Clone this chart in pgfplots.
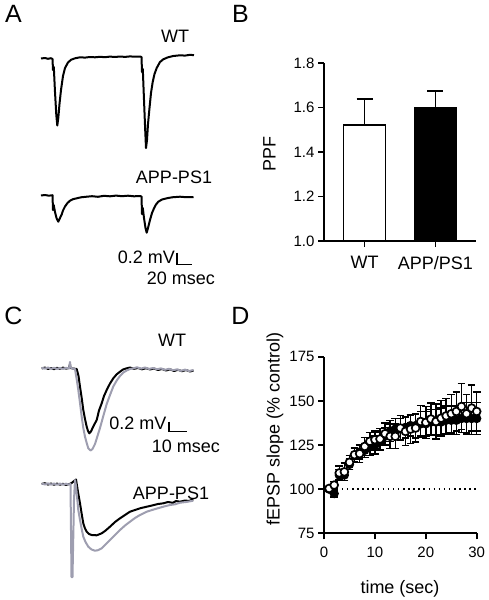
\documentclass[border=0pt]{standalone}
\usepackage{fontspec}
\setmainfont{Liberation Sans}
\usepackage{pgfplots}
\usepackage{pgfplotstable}
\pgfplotsset{compat=1.18}
\definecolor{tracegray}{RGB}{158,158,176}
\newcommand{\lab}{\fontsize{18}{18}\selectfont}
\newcommand{\tk}{\fontsize{15}{15}\selectfont}
\pgfplotstableread{
t open eo filled ef
1 100.4 1 100 1
2 102.3 2 97.5 2
3 109.2 4 108 3
4 109.8 5 108 3
5 115.2 4 114 3
6 119.5 4 119 4
7 120.1 5 121 4
8 124.2 5 122 4
9 127.1 5 124 5
10 128 5 125 5
11 128.4 6 127 5
12 131.4 6 130 5
13 129.9 7 133 6
14 129.9 7 134 6
15 134.6 7 134 6
16 132.7 8 135 6
17 134 8 136 6
18 134.6 8 136 7
19 138.3 9 137 7
20 137.8 9 137 7
21 139.7 9 138 7
22 138.3 10 138 7
23 140.2 10 138 8
24 141.5 10 139 8
25 142.7 11 139 8
26 144 11 139 8
27 146.8 13 140 8
28 142.7 11 140 9
29 145.9 13 140 9
30 144 11 140 9
}\ltpdata
\pgfplotsset{panel/.style={scale only axis, axis lines=left,
  axis line style={-, line width=1.8pt},
  tick align=outside, major tick length=6pt,
  every tick/.style={black, line width=1.8pt},
  tick label style={font=\tk},
  /pgf/number format/assume math mode=true}}
\begin{document}
\begin{tikzpicture}
\useasboundingbox (0pt,0pt) rectangle (488pt,-600pt);
% ---------- traces (pixel coordinates) ----------
\begin{axis}[at={(0pt,-600pt)}, anchor=south west, width=488pt, height=600pt,
  scale only axis, xmin=0, xmax=488, ymin=-600, ymax=0, hide axis, clip=false]
% A: WT
\addplot[black, line width=2pt, line join=round] coordinates {
(41,-58.5)(45,-58)(48,-58.8)(51,-58.2)(52.5,-59)(53,-70)(53.8,-67)(55,-92)(56.3,-115)(57.3,-125.5)(58.3,-118)(59.5,-104)(61,-90)(63,-76)(65,-68)(68,-62.5)(71,-59.8)(75,-58.3)(80,-57.3)(85,-57.6)(90,-57)(95,-57.3)(100,-56.8)(105,-57.2)(110,-56.6)(115,-57)(120,-56.5)(125,-56.9)(130,-56.4)(135,-56.7)(140,-56.5)(141.5,-57)(142,-72)(142.8,-69)(144,-100)(145.2,-130)(146,-148)(147,-140)(148,-124)(149.3,-110)(151,-93)(152.7,-82)(154.5,-74)(156.7,-68)(160,-62)(163.3,-59.3)(168,-57.3)(173.3,-56)(180,-55.3)(185,-55.6)(190,-54.8)(194,-55.2)};
% A: APP-PS1
\addplot[black, line width=2pt, line join=round] coordinates {
(41,-195.5)(45,-195)(49,-195.7)(52.5,-195.2)(53,-210)(53.7,-205)(55,-212)(56.5,-218)(58.3,-221.7)(60,-218)(61.7,-214.5)(63,-210.5)(65,-206.5)(67.5,-203)(70,-200.7)(73,-199.2)(76.7,-198.3)(81,-197.3)(86.7,-196.7)(92,-196.2)(98,-196.8)(104,-195.8)(110,-196.3)(116,-195.6)(122,-196.2)(128,-195.7)(134,-196.3)(140,-196)(141.5,-196.5)(142,-214)(142.8,-208)(144,-218)(145.5,-228)(146.7,-232.7)(148,-228)(150,-220)(152,-213)(154,-208.3)(156,-204.5)(158.3,-201.7)(162,-199.5)(166.7,-198.3)(172,-197.3)(180,-196.7)(186,-197.2)(193.5,-197)};
% A: scale bar
\addplot[black, line width=1.6pt] coordinates {(176.7,-252.7)(176.7,-264.5)(192,-264.5)};
% C: WT black
\addplot[black, line width=2pt, line join=round] coordinates {
(41.7,-368.5)(45,-367.5)(48,-369)(51,-368)(54,-369.2)(57,-367.8)(60,-368.8)(63,-367.6)(66,-368.6)(69,-368)(70,-364)(70.5,-368)(73,-368.5)(76.7,-369)(78.5,-376)(80,-386.7)(81.7,-398)(83.3,-410)(85,-419)(86.7,-426.7)(88,-431)(89.3,-433.3)(91,-431.5)(93,-427)(96.7,-420)(99,-410.5)(101.7,-403.3)(104,-396)(106.7,-390)(110,-383.5)(113.3,-378.3)(116.5,-374.5)(120,-371.7)(123,-369.5)(126.7,-368.3)(130,-367.5)(134,-368.8)(138,-368)(142,-369.3)(146,-368.2)(150,-369.5)(154,-368.5)(158,-370)(162,-369)(166,-370.5)(170,-369.3)(174,-371)(178,-369.8)(182,-371.2)(186,-370)(190,-371.5)(193.5,-370.5)};
% C: WT gray
\addplot[tracegray, line width=2pt, line join=round] coordinates {
(41.7,-367.8)(45,-368.6)(48,-367.5)(51,-368.8)(54,-367.8)(57,-368.9)(60,-367.9)(63,-368.9)(66,-367.8)(69,-368.5)(70,-362)(70.5,-367.5)(73,-368.6)(75,-369)(76.5,-378)(78.3,-390)(80,-403)(81.7,-416.7)(83.3,-428)(85,-436.7)(86.7,-443)(88.3,-448.3)(90.5,-450.5)(92.5,-449)(95,-444)(97.5,-436)(100,-428)(103.3,-416)(106.7,-404)(110,-395)(113.3,-386.5)(116.7,-380.5)(120,-376)(123.3,-372.5)(126.7,-370.5)(130,-369)(133.3,-368.3)(137,-367.3)(141,-368.6)(145,-367.5)(149,-368.9)(153,-368)(157,-369.2)(161,-368.4)(165,-369.8)(169,-368.8)(173,-370.2)(177,-369.4)(181,-370.8)(185,-369.6)(189,-371)(193.5,-370)};
% C: scale bar
\addplot[black, line width=1.6pt] coordinates {(169,-421.5)(169,-431.5)(187,-431.5)};
% C: APP-PS1 black
\addplot[black, line width=2pt, line join=round] coordinates {
(41.7,-484)(45,-483.2)(48,-484.6)(51,-483.5)(54,-484.8)(57,-483.6)(60,-484.7)(63,-483.8)(66,-484.9)(69.5,-484)(71.7,-483)(74,-481)(76,-479.5)(78,-492)(80,-503.3)(81.7,-514)(83.3,-523.3)(85,-528.5)(86.7,-531.7)(89,-534)(91.7,-535)(96.7,-535.3)(101.7,-533.3)(105,-531)(110,-526.7)(115,-522)(120,-518.3)(125,-515)(130,-511.7)(135,-510)(140,-508.3)(146.7,-506.7)(152,-505.5)(158,-504)(163.3,-503.3)(168,-502)(173,-502.8)(176,-501)(180,-501.7)(185,-500.5)(189,-501)(193.3,-499.3)};
% C: APP-PS1 gray
\addplot[tracegray, line width=2pt, line join=round] coordinates {
(41.7,-483.5)(45,-484.5)(48,-483.4)(51,-484.6)(54,-483.5)(57,-484.7)(60,-483.6)(63,-484.6)(66,-483.7)(69,-484.5)(70.5,-484)(71.5,-577)(72.5,-577)(74,-500)(75,-480)(76,-486)(78.3,-510)(80,-520)(81.7,-529)(83.3,-536.7)(85.5,-542)(88.3,-546.7)(91.5,-549.5)(95,-550.7)(98,-550.2)(101.7,-548.3)(105,-545)(110,-540)(115,-535)(120,-530)(125,-525.5)(130,-521.7)(135,-518)(140,-515)(146.7,-511.7)(152,-510)(158,-508.2)(163.3,-506.7)(170,-505)(175,-504.3)(180,-502.7)(186,-502)(193.3,-500.7)};
\end{axis}
% ---------- B: PPF bars ----------
\begin{axis}[panel, at={(324pt,-241pt)}, anchor=south west, width=152pt, height=178pt,
  xmin=0, xmax=3, ymin=1.0, ymax=1.8, ytick={1.0,1.2,1.4,1.6,1.8},
  yticklabel style={/pgf/number format/.cd, fixed, fixed zerofill, precision=1},
  xtick={0.8,2.2}, xticklabels={WT,APP/PS1},
  xticklabel style={font=\lab, yshift=-6pt}]
\addplot[ybar, bar width=42pt, bar shift=0pt, fill=white, draw=black, line width=1.8pt,
  error bars/.cd, y dir=plus, y explicit,
  error bar style={line width=1.8pt, black},
  error mark options={rotate=90, mark size=8pt, line width=1.8pt, black}]
  coordinates {(0.8,1.52) +- (0,0.12)};
\addplot[ybar, bar width=42pt, bar shift=0pt, fill=black, draw=black, line width=1.8pt,
  error bars/.cd, y dir=plus, y explicit,
  error bar style={line width=1.8pt, black},
  error mark options={rotate=90, mark size=8pt, line width=1.8pt, black}]
  coordinates {(2.2,1.60) +- (0,0.075)};
\end{axis}
% ---------- D: STP time course ----------
\begin{axis}[panel, at={(324pt,-533.3pt)}, anchor=south west, width=152.7pt, height=176.6pt,
  xmin=0, xmax=30, ymin=75, ymax=175, xtick={0,10,20,30}, ytick={75,100,125,150,175},
  xticklabel style={yshift=-4pt}, clip=false]
\addplot[black, line width=1.6pt, dash pattern=on 1.5pt off 3.6pt] coordinates {(1.5,100) (30,100)};
\addplot[only marks, mark=*, mark size=4pt, black, line width=1.3pt,
  error bars/.cd, y dir=both, y explicit,
  error bar style={line width=1.4pt, black},
  error mark options={rotate=90, mark size=3.8pt, line width=1.4pt, black}]
  table[x=t, y=filled, y error=ef]{\ltpdata};
\addplot[only marks, mark=*, mark size=3.9pt, draw=black, fill=white, line width=1.7pt,
  mark options={fill=white, draw=black},
  error bars/.cd, y dir=both, y explicit,
  error bar style={line width=1.4pt, black},
  error mark options={rotate=90, mark size=3.8pt, line width=1.4pt, black}]
  table[x=t, y=open, y error=eo]{\ltpdata};
\end{axis}
% ---------- text ----------
\node[font=\fontsize{25}{25}\selectfont] at (13.5pt,-14pt) {A};
\node[font=\fontsize{25}{25}\selectfont] at (240.5pt,-14pt) {B};
\node[font=\fontsize{25}{25}\selectfont] at (13.5pt,-316pt) {C};
\node[font=\fontsize{25}{25}\selectfont] at (240.5pt,-316pt) {D};
\node[font=\lab] at (175pt,-36pt) {WT};
\node[font=\lab] at (174pt,-177pt) {APP-PS1};
\node[font=\lab, anchor=east, inner sep=0pt] at (175pt,-257.5pt) {0.2 mV};
\node[font=\lab] at (181pt,-278.5pt) {20 msec};
\node[font=\lab] at (172pt,-340pt) {WT};
\node[font=\lab, anchor=east, inner sep=0pt] at (166.5pt,-423pt) {0.2 mV};
\node[font=\lab] at (186pt,-446pt) {10 msec};
\node[font=\lab] at (171pt,-493pt) {APP-PS1};
\node[font=\lab, rotate=90] at (269.5pt,-154pt) {PPF};
\node[font=\lab, rotate=90] at (275pt,-429pt) {fEPSP slope (\% control)};
\node[font=\lab] at (400pt,-589pt) {time (sec)};
\end{tikzpicture}
\end{document}
